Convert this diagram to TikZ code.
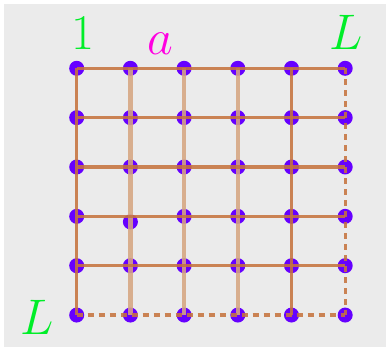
\documentclass[tikz,border=0pt]{standalone}
\usepackage{fix-cm}
\usepackage{xcolor}
\usepackage{tikz}
\definecolor{bggray}{RGB}{235,235,235}
\definecolor{dotviolet}{RGB}{102,0,255}
\definecolor{rungbrown}{RGB}{198,116,62}
\definecolor{railtan}{RGB}{214,166,130}
\definecolor{labgreen}{RGB}{0,238,40}
\definecolor{labpink}{RGB}{255,0,225}

\begin{document}
\begin{tikzpicture}[x=1pt, y=-1pt,
    dot/.style={circle, fill=dotviolet, inner sep=0pt, minimum size=15pt},
    rung/.style={draw=rungbrown, line width=3.2pt, opacity=0.88},
    rail/.style={draw=railtan, line width=4.4pt, opacity=0.88},
    open/.style={draw=rungbrown, line width=3.2pt, dash pattern=on 6pt off 5pt, opacity=0.88},
    lab/.style={anchor=base, inner sep=0pt, font=\fontsize{50}{50}\selectfont}
]
% background
\fill[white] (0,0) rectangle (386,347);
\fill[bggray] (4,4) rectangle (386,347);
\useasboundingbox (0,0) rectangle (386,347);

% lattice sites (site 4-2 sits a little low)
\foreach \i in {1,...,6}
  \foreach \j in {1,...,6} {
    \pgfmathsetmacro\dy{and(\i==4,\j==2)*5.5}
    \node[dot] (d\i\j) at ({76.7+53.7*(\j-1)}, {68.3+49.35*(\i-1)+\dy}) {};
  }

% vertical bonds
\draw[rung] (d11.center) -- (d61.center);
\draw[rail] (d12.center) -- (d62.center);
\draw[rail] (d13.center) -- (d63.center);
\draw[rail] (d14.center) -- (d64.center);
\draw[rung] (d15.center) -- (d65.center);
\draw[open] (d16.center) -- (d66.center);

% horizontal bonds
\foreach \i in {1,...,5}
  \draw[rung] (d\i1.center) -- (d\i6.center);
\draw[open] (d61.center) -- (d66.center);

% labels
\node[lab, text=labgreen] (one) at (83,50) {1};
\node[lab, text=labpink] (spacing) at (160,55) {$a$};
\node[lab, text=labgreen] (lx) at (346,50) {$L$};
\node[lab, text=labgreen] (ly) at (37,335) {$L$};
\end{tikzpicture}
\end{document}
